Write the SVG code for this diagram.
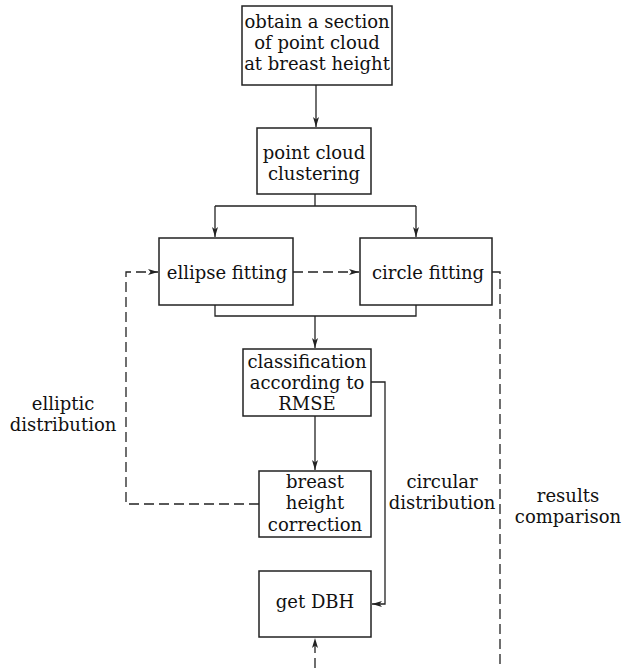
<svg xmlns="http://www.w3.org/2000/svg" width="624" height="668" viewBox="0 0 624 668">
<style>
.box{fill:#fff;stroke:#222;stroke-width:1.5}
.t{font-family:"DejaVu Serif",serif;font-size:18px;fill:#111;text-anchor:middle}
.ln{fill:none;stroke:#222;stroke-width:1.3}
.ds{fill:none;stroke:#222;stroke-width:1.3;stroke-dasharray:10 5}
</style>
<defs>
<marker id="ah" viewBox="0 0 10 6" refX="10" refY="3" markerWidth="10" markerHeight="6" markerUnits="userSpaceOnUse" orient="auto">
<path d="M0,0 L10,3 L0,6 L2.5,3 Z" fill="#222"/>
</marker>
</defs>
<rect width="624" height="668" fill="#fff"/>
<g id="connectors">
<path class="ln" d="M316,85 V127" marker-end="url(#ah)"/>
<path class="ln" d="M315,194 V206 M215,206 H416"/>
<path class="ln" d="M215,206 V237" marker-end="url(#ah)"/>
<path class="ln" d="M416,206 V237" marker-end="url(#ah)"/>
<path class="ln" d="M215,305 V316 H416 V305 M315,316"/>
<path class="ln" d="M315,316 V348" marker-end="url(#ah)"/>
<path class="ln" d="M315,416 V470" marker-end="url(#ah)"/>
<path class="ln" d="M371,382 H385 V604 H372" marker-end="url(#ah)"/>
<path class="ds" d="M293,272 H359" marker-end="url(#ah)"/>
<path class="ds" d="M259,504 H126 V272 H158" marker-end="url(#ah)"/>
<path class="ds" d="M492,272 H500 V668"/>
<path class="ds" d="M315,668 V638" marker-end="url(#ah)"/>
</g>
<g id="n1"><rect class="box" x="242" y="6" width="150" height="79"/>
<text class="t" x="317" y="28">obtain a section</text>
<text class="t" x="317" y="49">of point cloud</text>
<text class="t" x="317" y="70">at breast height</text></g>
<g id="n2"><rect class="box" x="257" y="128" width="114" height="66"/>
<text class="t" x="314" y="159">point cloud</text>
<text class="t" x="314" y="180">clustering</text></g>
<g id="n3"><rect class="box" x="159" y="238" width="134" height="67"/>
<text class="t" x="227" y="279">ellipse fitting</text></g>
<g id="n4"><rect class="box" x="360" y="238" width="132" height="67"/>
<text class="t" x="428" y="279">circle fitting</text></g>
<g id="n5"><rect class="box" x="243" y="349" width="128" height="67"/>
<text class="t" x="307" y="368">classification</text>
<text class="t" x="307" y="389">according to</text>
<text class="t" x="307" y="410">RMSE</text></g>
<g id="n6"><rect class="box" x="259" y="471" width="112" height="66"/>
<text class="t" x="315" y="488">breast</text>
<text class="t" x="315" y="509">height</text>
<text class="t" x="315" y="531">correction</text></g>
<g id="n7"><rect class="box" x="259" y="571" width="112" height="66"/>
<text class="t" x="315" y="608">get DBH</text></g>
<g id="labels">
<text class="t" x="63" y="410">elliptic</text>
<text class="t" x="63" y="431">distribution</text>
<text class="t" x="442" y="488">circular</text>
<text class="t" x="442" y="509">distribution</text>
<text class="t" x="568" y="502">results</text>
<text class="t" x="568" y="523">comparison</text>
</g>
</svg>
